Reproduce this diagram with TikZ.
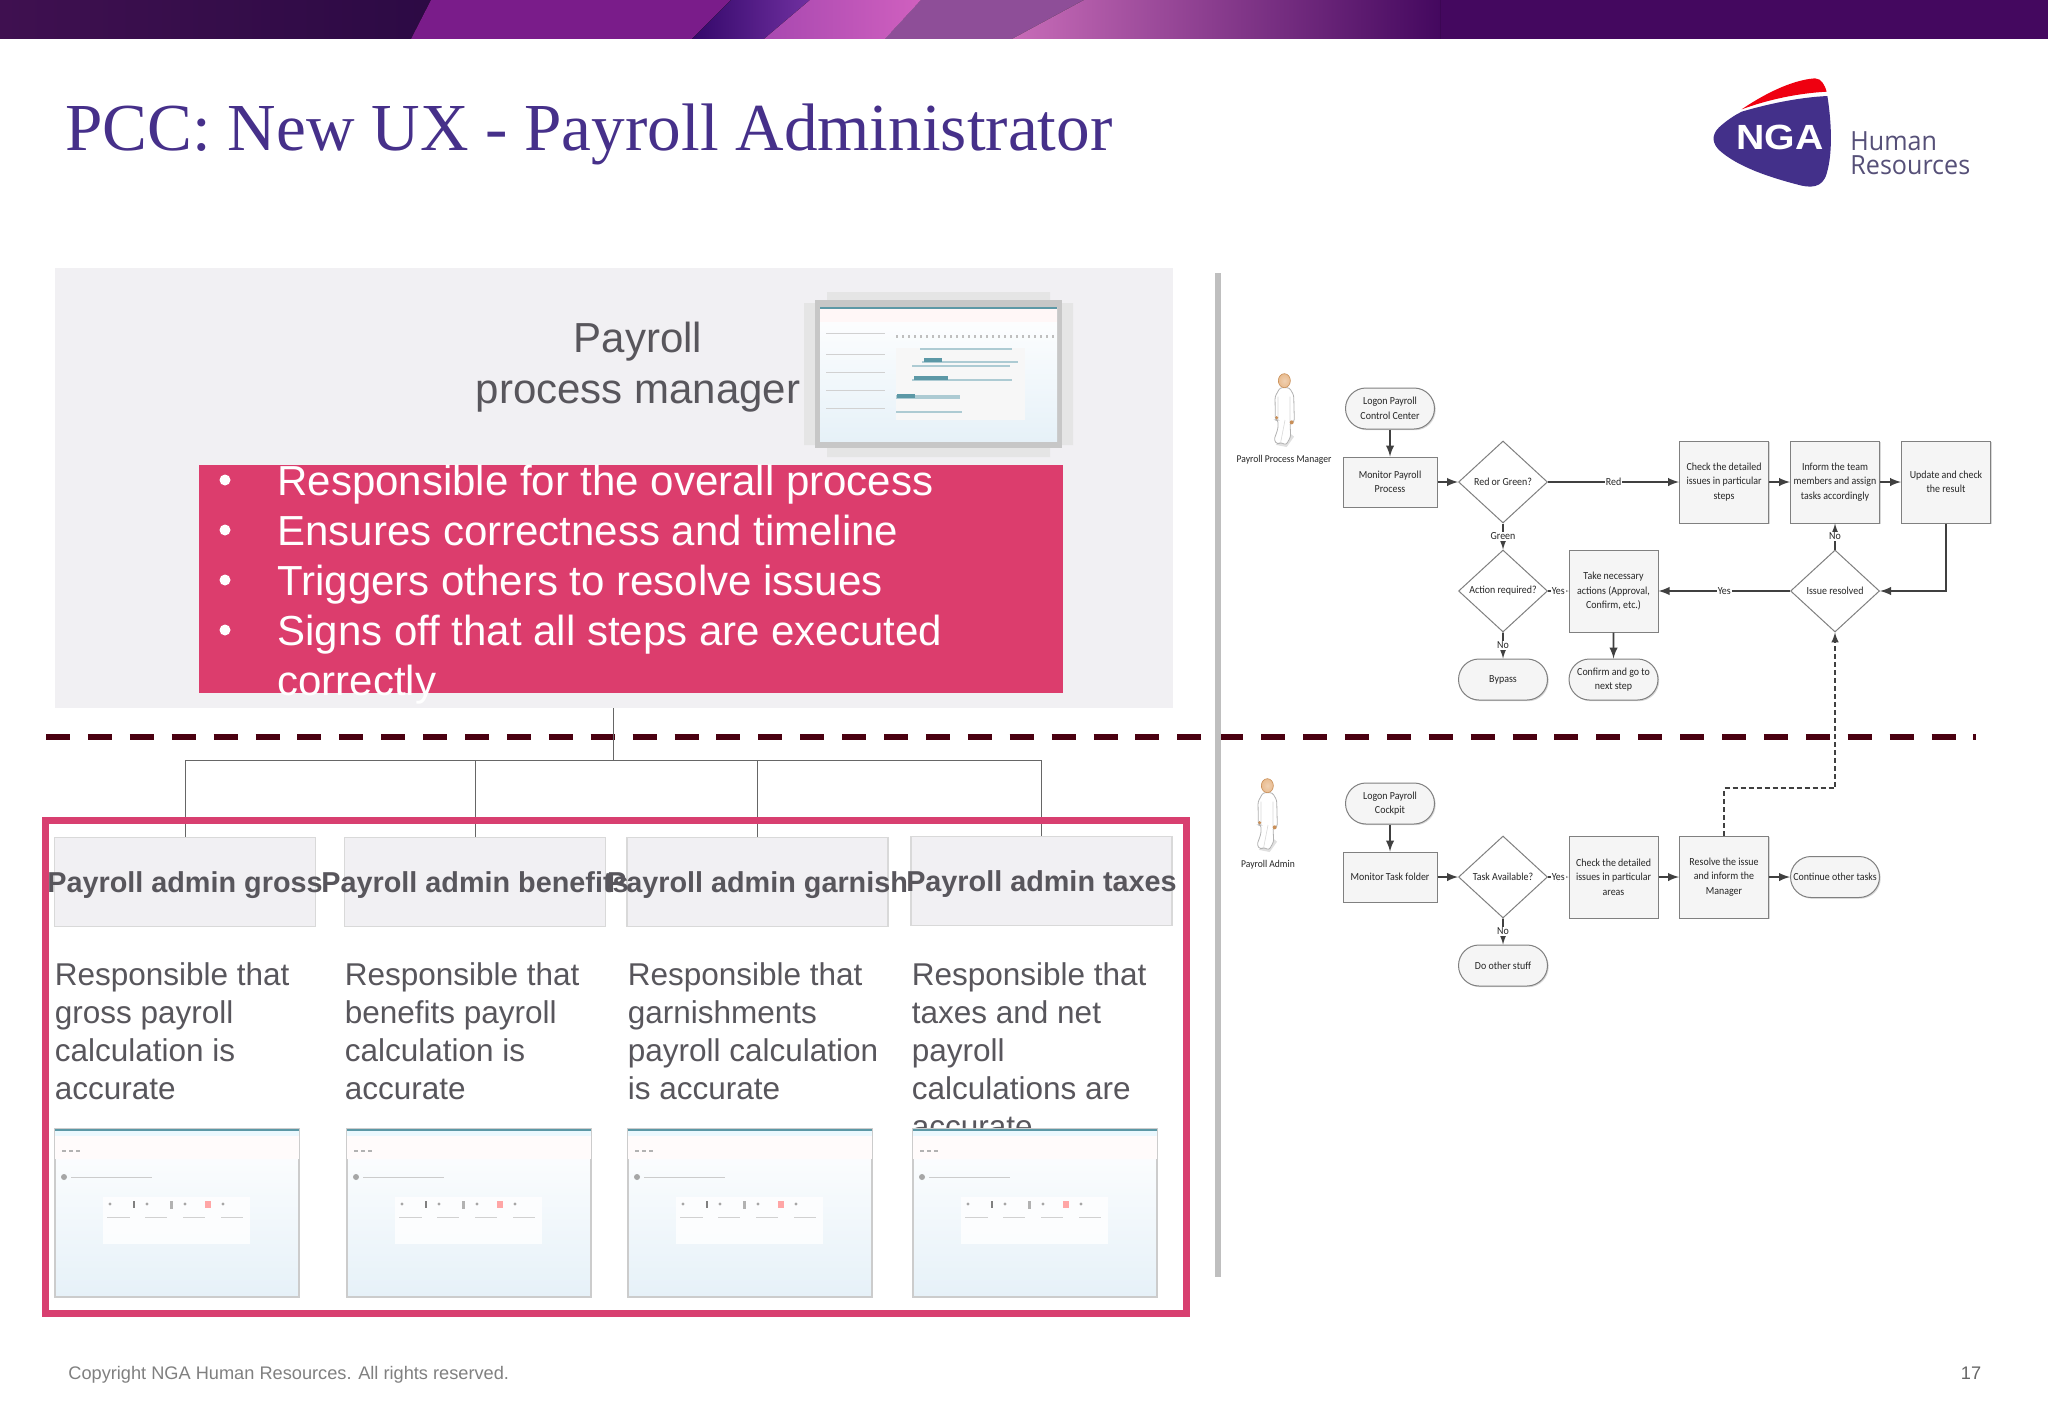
\documentclass[tikz,border=0pt]{standalone}
\usepackage{fontspec}
\setmainfont{Liberation Sans}
\newfontfamily\titlefont{Liberation Serif}
\newfontfamily\flowfont[FakeStretch=0.92]{Carlito}
\newfontfamily\logofont[FakeStretch=0.95]{Open Sans}
\usetikzlibrary{shapes.geometric,shapes.misc,shadows}

\definecolor{slidepink}{HTML}{DC3D6D}
\definecolor{framepink}{HTML}{D83F70}
\definecolor{panelgray}{HTML}{F1F0F3}
\definecolor{textgray}{HTML}{58565C}
\definecolor{titleblue}{HTML}{46308A}
\definecolor{maroon}{HTML}{4A0010}
\definecolor{flowgray}{HTML}{404040}
\definecolor{logoblue}{HTML}{43308A}
\definecolor{logotext}{HTML}{565078}
\definecolor{shotblue}{HTML}{E6F1F8}
\definecolor{shotteal}{HTML}{5C98A6}
\definecolor{skin}{HTML}{E9BC90}
\definecolor{skindark}{HTML}{C98F58}

\tikzset{
  boxshadow/.style={drop shadow={shadow xshift=.6pt,shadow yshift=-.6pt,fill=black!30,opacity=.5}},
  flowbase/.style={draw=black!50,fill=black!4,line width=.5pt,align=center,font=\flowfont\fontsize{5.4}{7.25}\selectfont,text=black!85,inner sep=0pt},
  stepbox/.style={flowbase,boxshadow,minimum width=44.5pt,minimum height=41pt},
  monbox/.style={flowbase,boxshadow,minimum width=47pt,minimum height=25pt},
  endbox/.style={flowbase,boxshadow,rounded rectangle,minimum width=44.5pt,minimum height=20.5pt},
  choice/.style={flowbase,fill=white,diamond,aspect=1.07,minimum width=44.5pt,minimum height=41pt},
  flowline/.style={draw=flowgray,line width=.9pt,->,>=latex},
  flowdash/.style={flowline,line width=.7pt,dash pattern=on 2.5pt off 1.5pt},
  flowlabel/.style={fill=white,inner sep=.4pt,font=\flowfont\fontsize{5.4}{6.5}\selectfont,text=black!85},
  rolelabel/.style={inner sep=0pt,font=\flowfont\fontsize{5.2}{6}\selectfont,text=black!85},
  headbox/.style={draw=black!15,fill=panelgray,line width=.7pt,minimum width=130.5pt,minimum height=44.5pt,inner sep=0pt},
  headtext/.style={inner sep=0pt,font=\bfseries\fontsize{14.4}{17}\selectfont,text=textgray},
  bodytext/.style={anchor=north west,inner sep=0pt,align=left,font=\fontsize{15.75}{19}\selectfont,text=textgray},
  listtext/.style={anchor=base west,inner sep=0pt,font=\fontsize{21}{25}\selectfont,text=white},
  treeline/.style={draw=black!60,line width=.5pt},
}

% small screenshot under each role
\def\thumbshot(#1,#2){
  \begin{scope}[shift={(#1,#2)}]
    \fill[top color=white,middle color=shotblue!70,bottom color=shotblue,draw=black!20,line width=.6pt] (0,0) rectangle (244,168);
    \fill[shotteal] (0,0) rectangle (244,2);
    \fill[cyan!8] (0,2) rectangle (244,7);
    \fill[red!1.5] (0,7) rectangle (244,30);
    \fill[white,opacity=.8] (48,68) rectangle (195,115);
    \fill[black!35] (9,48) circle (3);
    \foreach \lx in {7,14,21} \fill[black!30] (\lx,21) rectangle ++(4,2);
    \draw[black!20,line width=.5pt] (16,48) -- (97,48);
    \draw[black!18,line width=.5pt] (52,88) -- (75,88) (90,88) -- (112,88) (128,88) -- (150,88) (166,88) -- (188,88);
    \foreach \lx in {55,92,130,168} \fill[black!35] (\lx,75) circle (1.7);
    \fill[black!50] (78,72) rectangle ++(2,7);
    \fill[black!30] (115,72) rectangle ++(3,8);
    \fill[red!35] (150,72) rectangle ++(6,7);
  \end{scope}
}

% person shape, drawn in the coordinates of a 3x crop
\def\personfig(#1,#2){
  \begin{scope}[shift={(#1,#2)},x=.1667pt,y=-.1667pt]
    \fill[black!12] (80,240) -- (110,246) -- (132,215) -- (120,205) -- cycle;
    \filldraw[fill=white,draw=black!30,line width=.4pt,rounded corners=1.2pt] (90,68) -- (118,68) -- (131,90) -- (133,170) -- (120,172) -- (122,215) -- (108,240) -- (92,232) -- (82,238) -- (72,225) -- (84,190) -- (84,165) -- (76,165) -- (75,95) -- cycle;
    \draw[black!15,line width=.3pt] (105,165) -- (92,232) (84,95) -- (84,165) (120,95) -- (120,172);
    \fill[skindark] (80,158) circle (5) (125,172) circle (6);
    \shade[inner color=skin!70,outer color=skin,draw=skindark,line width=.3pt] (103,47) ellipse (18 and 21);
  \end{scope}
}

\begin{document}
\begin{tikzpicture}[x=.5pt,y=-.5pt]
\useasboundingbox (0,0) rectangle (2048,1418);
\fill[white] (0,0) rectangle (2048,1418);

% banner
\definecolor{bandplum}{HTML}{3F1050}
\definecolor{banddark}{HTML}{2C0A44}
\definecolor{bandnight}{HTML}{34086A}
\definecolor{bandpurple}{HTML}{7A1C8A}
\definecolor{bandviolet}{HTML}{7030A0}
\definecolor{bandorchid}{HTML}{A848B0}
\definecolor{bandrose}{HTML}{D060BF}
\definecolor{bandmauve}{HTML}{8E4E98}
\definecolor{bandblush}{HTML}{C86CB8}
\definecolor{bandend}{HTML}{44085F}
\fill[left color=bandplum,right color=banddark] (0,0) rectangle (431,39);
\fill[bandend] (1400,0) rectangle (2048,39);
\fill[left color=bandpurple,middle color=bandnight,right color=bandpurple] (431,0) -- (731,0) -- (692,39) -- (411,39) -- cycle;
\fill[left color=bandnight,right color=bandviolet] (731,0) -- (810,0) -- (764,39) -- (692,39) -- cycle;
\fill[left color=bandorchid,right color=bandrose] (810,0) -- (921,0) -- (885,39) -- (764,39) -- cycle;
\fill[bandmauve] (921,0) -- (1084,0) -- (1012,39) -- (885,39) -- cycle;
\fill[left color=bandblush,right color=bandend] (1084,0) -- (1440,0) -- (1440,39) -- (1012,39) -- cycle;

% title and logo
\node[anchor=base west,inner sep=0pt,text=titleblue,font=\titlefont\fontsize{33.6}{38}\selectfont] (title) at (65,150) {PCC: New UX - Payroll Administrator};
\begin{scope}[shift={(1690,60)},x=.1667pt,y=-.1667pt]
  \fill[logoblue] (155,155) .. controls (240,130) and (330,112) .. (412,108) .. controls (425,190) and (428,280) .. (410,340) .. controls (398,385) and (360,385) .. (320,373) .. controls (240,352) and (140,320) .. (85,268) .. controls (60,240) and (70,215) .. (95,195) .. controls (115,178) and (135,165) .. (155,155) -- cycle;
  \fill[red!75!purple] (155,148) .. controls (210,110) and (300,60) .. (375,55) .. controls (395,55) and (405,78) .. (410,95) .. controls (320,100) and (230,120) .. (155,148) -- cycle;
  \node[xscale=1.12,inner sep=0pt,text=white,font=\bfseries\fontsize{17.5}{20}\selectfont] (logonga) at (270,232) {NGA};
\end{scope}
\node[anchor=base west,inner sep=0pt,text=logotext,font=\logofont\fontsize{13.2}{13}\selectfont] (logohuman) at (1850,150) {Human};
\node[anchor=base west,inner sep=0pt,text=logotext,font=\logofont\fontsize{13.2}{13}\selectfont] (logores) at (1850,174) {Resources};

% manager panel
\fill[panelgray] (55,268) rectangle (1173,708);
\node[inner sep=0pt,align=center,font=\fontsize{21}{25.5}\selectfont,text=textgray] (manager) at (638,367) {Payroll\\process manager};
\fill[black!10] (804,303) rectangle (1073,445) (827,292) rectangle (1050,457);
\fill[black!22] (815,300) rectangle (1062,448);
\fill[top color=white,bottom color=shotblue] (820,307) rectangle (1057,441);
\fill[shotteal] (820,307) rectangle (1057,309);
\fill[red!3] (820,309) rectangle (1057,322);
\foreach \ly in {333,354,372,390,408} \draw[black!18,line width=.5pt] (826,\ly) -- (885,\ly);
\draw[black!25,line width=1.5pt,dash pattern=on 1pt off 2pt] (896,336) -- (1056,336);
\fill[black!3] (896,348) rectangle (1025,420);
\foreach \ly/\lx/\ex in {349/920/1012,362/922/1018,366/912/1010,380/912/1012,396/896/960,398/896/960,412/896/962} \draw[shotteal!50,line width=.8pt] (\lx,\ly) -- (\ex,\ly);
\draw[shotteal,line width=1.6pt] (924,360) -- (942,360) (914,378) -- (948,378) (897,396) -- (915,396);
\fill[slidepink] (198.5,465) rectangle (1063,693);
\foreach \li/\ly/\ltext in {1/495/Responsible for the overall process,2/545/Ensures correctness and timeline,3/595/Triggers others to resolve issues,4/645/Signs off that all steps are executed}{
  \fill[white] (225,\ly-15) circle (5.5);
  \node[listtext] (item\li) at (277,\ly) {\ltext};
}
\node[listtext] (item5) at (277,695) {correctly};

% divider and rule
\draw[maroon,line width=3pt,dash pattern=on 12pt off 8.95pt] (46,737) -- (1976,737);
\fill[black!25] (1215,273) rectangle (1221,1277);

% role boxes
\node[headbox] (grossbox) at (185,882) {};
\node[headbox] (benefitbox) at (475,882) {};
\node[headbox] (garnbox) at (757.5,882) {};
\node[headbox] (taxbox) at (1041.5,881) {};
\coordinate (paneltop) at (613,708);
\coordinate (treejoin) at (613,760);
\draw[treeline] (paneltop) -- (treejoin);
\draw[treeline] (grossbox.north) |- (treejoin) -| (taxbox.north);
\draw[treeline] (benefitbox.north) -- (benefitbox.north |- treejoin);
\draw[treeline] (garnbox.north) -- (garnbox.north |- treejoin);
\draw[framepink,line width=3.5pt] (45.5,820) rectangle (1186,1313.5);
\node[headtext] (grosshead) at (185,885.5) {Payroll admin gross};
\node[headtext] (benefithead) at (475,885.5) {Payroll admin benefits};
\node[headtext] (garnhead) at (757.5,885.5) {Payroll admin garnish};
\node[headtext] (taxhead) at (1041.5,884.5) {Payroll admin taxes};

\node[bodytext] (grosstext) at (54.5,962) {Responsible that\\gross payroll\\calculation is\\accurate};
\node[bodytext] (benefittext) at (344.5,962) {Responsible that\\benefits payroll\\calculation is\\accurate};
\node[bodytext] (garntext) at (627.5,962) {Responsible that\\garnishments\\payroll calculation\\is accurate};
\node[bodytext] (taxtext) at (911.5,962) {Responsible that\\taxes and net\\payroll\\calculations are\\accurate};
\foreach \tx in {55,347,628,913} \thumbshot(\tx,1129);

% manager flow
\personfig(1250,365)
\node[rolelabel] (pmlabel) at (1284,460) {Payroll Process Manager};
\node[endbox] (logonpm) at (1390,408.5) {Logon Payroll\\Control Center};
\node[monbox] (monpm) at (1390,482) {Monitor Payroll\\Process};
\node[choice] (redgreen) at (1503,482) {Red or Green?};
\node[stepbox] (checksteps) at (1724,482) {Check the detailed\\issues in particular\\steps};
\node[stepbox] (inform) at (1835,482) {Inform the team\\members and assign\\tasks accordingly};
\node[stepbox] (update) at (1946,482) {Update and check\\the result};
\node[choice] (actionreq) at (1503,591) {Action required?};
\node[stepbox] (takeact) at (1613.5,591) {Take necessary\\actions (Approval,\\Confirm, etc.)};
\node[choice] (issue) at (1835,591) {Issue resolved};
\node[endbox] (bypass) at (1503,679.5) {Bypass};
\node[endbox] (confirm) at (1613.5,679.5) {Confirm and go to\\next step};

\draw[flowline] (logonpm) -- (monpm);
\draw[flowline] (monpm) -- (redgreen);
\draw[flowline] (redgreen) -- node[flowlabel] {Red} (checksteps);
\draw[flowline] (checksteps) -- (inform);
\draw[flowline] (inform) -- (update);
\draw[flowline] (update.south) |- (issue.east);
\draw[flowline] (issue) -- node[flowlabel] {No} (inform);
\draw[flowline] (issue) -- node[flowlabel] {Yes} (takeact);
\draw[flowline] (takeact) -- (confirm);
\draw[flowline] (redgreen) -- node[flowlabel] {Green} (actionreq);
\draw[flowline] (actionreq) -- node[flowlabel] {Yes} (takeact);
\draw[flowline] (actionreq) -- node[flowlabel] {No} (bypass);

% admin flow
\personfig(1233,770)
\node[rolelabel] (adlabel) at (1268,865) {Payroll Admin};
\node[endbox] (logonad) at (1390,803.5) {Logon Payroll\\Cockpit};
\node[monbox] (monad) at (1390,877) {Monitor Task folder};
\node[choice] (taskav) at (1503,877) {Task Available?};
\node[stepbox] (checkareas) at (1613.5,877) {Check the detailed\\issues in particular\\areas};
\node[stepbox] (resolve) at (1724,877) {Resolve the issue\\and inform the\\Manager};
\node[endbox] (contin) at (1835,877) {Continue other tasks};
\node[endbox] (other) at (1503,965.5) {Do other stuff};

\draw[flowline] (logonad) -- (monad);
\draw[flowline] (monad) -- (taskav);
\draw[flowline] (taskav) -- node[flowlabel] {Yes} (checkareas);
\draw[flowline] (checkareas) -- (resolve);
\draw[flowline] (resolve) -- (contin);
\draw[flowline] (taskav) -- node[flowlabel] {No} (other);
\coordinate (bendlow) at (1724,788);
\coordinate (bendhigh) at (1835,788);
\draw[flowdash] (resolve.north) -- (bendlow) -- (bendhigh) -- (issue.south);

% footer
\node[anchor=base west,inner sep=0pt,text=black!50,font=\fontsize{9.1}{11}\selectfont] (copyright) at (68,1379) {Copyright NGA Human Resources. All rights reserved.};
\node[inner sep=0pt,text=black!60,font=\fontsize{9.1}{11}\selectfont] (pagenum) at (1971,1373) {17};
\end{tikzpicture}
\end{document}
